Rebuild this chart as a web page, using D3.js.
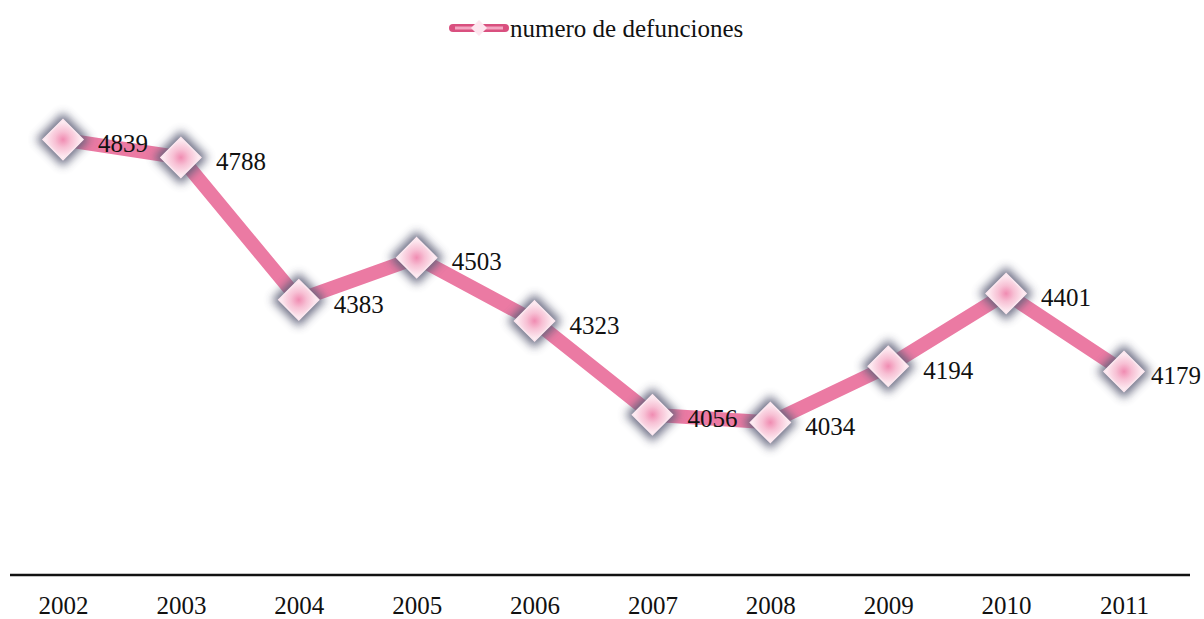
<!DOCTYPE html>
<html>
<head>
<meta charset="utf-8">
<script src="https://cdn.jsdelivr.net/npm/d3@7"></script>
<style>
  body { margin: 0; background: #fff; }
  svg text { font-family: 'Liberation Serif', 'DejaVu Serif', serif; fill: #111; }
</style>
</head>
<body>
<div id="chart"></div>
<script>
var years = ["2002", "2003", "2004", "2005", "2006", "2007", "2008", "2009", "2010", "2011"];
var defunciones = [4839, 4788, 4383, 4503, 4323, 4056, 4034, 4194, 4401, 4179];
var seriesName = "numero de defunciones";

var width = 1204,
    height = 619;
var serif = "'Liberation Serif', 'DejaVu Serif', serif";

var svg = d3.select("#chart").append("svg")
    .attr("width", width)
    .attr("height", height);

var defs = svg.append("defs");
var blur = defs.append("filter").attr("id", "glow")
    .attr("x", "-50%").attr("y", "-50%").attr("width", "200%").attr("height", "200%");
blur.append("feGaussianBlur").attr("stdDeviation", 5);

var grad = defs.append("radialGradient").attr("id", "mk");
grad.append("stop").attr("offset", "0%").attr("stop-color", "#f08cb2");
grad.append("stop").attr("offset", "40%").attr("stop-color", "#f7c0d4");
grad.append("stop").attr("offset", "100%").attr("stop-color", "#fff6f9");

var x = d3.scalePoint()
    .domain(years)
    .range([63, 1124]);

var y = d3.scaleLinear()
    .domain([3600, 5000])
    .range([575, 83]);

var data = years.map(function(d, i) {
    return { year: d, value: defunciones[i] };
});

// axis
var axis = svg.append("g")
    .attr("transform", "translate(0,575)")
    .call(d3.axisBottom(x).tickSize(0).tickPadding(21));
axis.select(".domain").remove();
axis.attr("font-family", serif).attr("font-size", 25);
axis.selectAll("text")
    .attr("fill", "#111");

svg.append("line")
    .attr("x1", 10).attr("x2", 1190)
    .attr("y1", 575).attr("y2", 575)
    .attr("stroke", "#111")
    .attr("stroke-width", 2.5);

// line
var line = d3.line()
    .x(function(d) { return x(d.year); })
    .y(function(d) { return y(d.value); });

svg.append("path")
    .datum(data)
    .attr("d", line)
    .attr("fill", "none")
    .attr("stroke", "#eb7aa3")
    .attr("stroke-width", 14)
    .attr("stroke-linejoin", "round");

// markers
var diamond = function(r) {
    return "M0," + (-r) + "L" + r + ",0L0," + r + "L" + (-r) + ",0Z";
};

var mk = svg.selectAll(".mk")
    .data(data)
    .enter().append("g")
    .attr("class", "mk")
    .attr("transform", function(d) {
        return "translate(" + x(d.year) + "," + y(d.value) + ")";
    });

mk.append("path")
    .attr("d", diamond(27))
    .attr("fill", "#5f6179")
    .attr("opacity", 0.9)
    .attr("filter", "url(#glow)");

mk.append("path")
    .attr("d", diamond(20))
    .attr("fill", "url(#mk)")
    .attr("stroke", "#fde8f0")
    .attr("stroke-width", 1.5);

// value labels
svg.selectAll(".lbl")
    .data(data)
    .enter().append("text")
    .attr("class", "lbl")
    .attr("font-family", serif)
    .attr("font-size", 25)
    .attr("y", function(d) { return y(d.value) + 4; })
    .attr("dy", "0.35em")
    .text(function(d) { return d.value; })
    .attr("x", function(d) {
        var w = this.getComputedTextLength();
        return Math.min(x(d.year) + 35, width - w - 3);
    });

// legend
var lg = svg.append("g").attr("transform", "translate(479,28)");
lg.append("line")
    .attr("x1", -26).attr("x2", 26)
    .attr("stroke", "#d9507f")
    .attr("stroke-width", 8)
    .attr("stroke-linecap", "round");
lg.append("line")
    .attr("x1", -24).attr("x2", 24)
    .attr("stroke", "#f3a6c2")
    .attr("stroke-width", 3);
lg.append("path")
    .attr("d", diamond(8))
    .attr("fill", "#fde6ef");
lg.append("text")
    .attr("x", 31)
    .attr("dy", "0.35em")
    .attr("font-family", serif)
    .attr("font-size", 25)
    .text(seriesName);
</script>
</body>
</html>
